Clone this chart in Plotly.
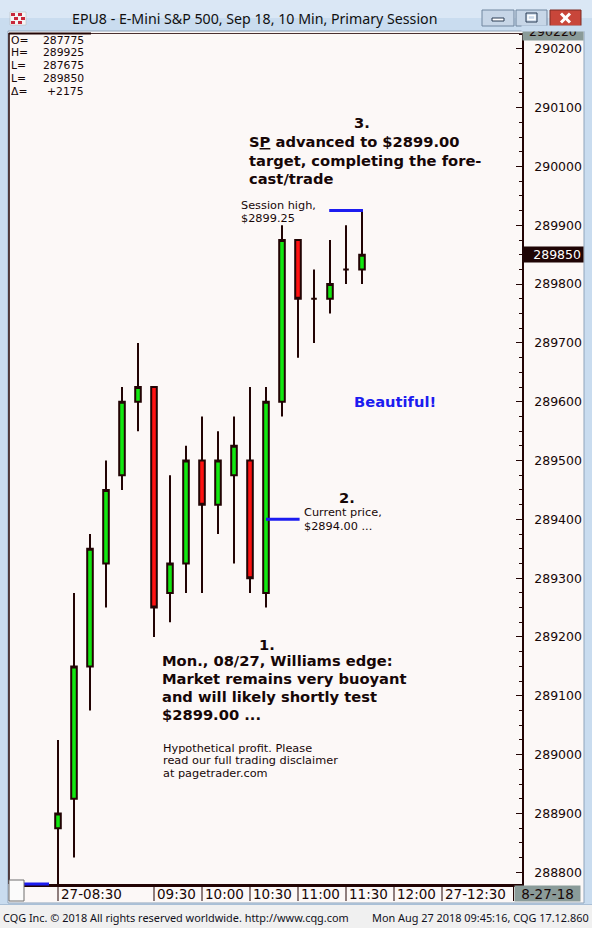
import plotly.graph_objects as go

# ---------------- data ----------------
bar_times = ["08:30", "08:40", "08:50", "09:00", "09:10", "09:20", "09:30", "09:40", "09:50", "10:00",
             "10:10", "10:20", "10:30", "10:40", "10:50", "11:00", "11:10", "11:20", "11:30", "11:40"]
opens = [288875, 288925, 289150, 289325, 289475, 289600, 289625, 289275, 289325, 289500,
         289425, 289475, 289500, 289275, 289600, 289875, 289775, 289775, 289825, 289825]
highs = [289025, 289275, 289375, 289500, 289625, 289700, 289625, 289475, 289525, 289575,
         289550, 289575, 289625, 289625, 289900, 289875, 289825, 289875, 289900, 289925]
lows = [288775, 288825, 289075, 289250, 289450, 289550, 289200, 289225, 289275, 289275,
        289375, 289325, 289275, 289250, 289575, 289675, 289700, 289750, 289800, 289800]
closes = [288900, 289150, 289350, 289450, 289600, 289625, 289250, 289325, 289500, 289425,
          289500, 289525, 289300, 289600, 289875, 289775, 289775, 289800, 289825, 289850]

time_labels = ["27-08:30", "09:30", "10:00", "10:30", "11:00", "11:30", "12:00", "27-12:30"]
y_tick_values = [288800, 288900, 289000, 289100, 289200, 289300, 289400, 289500,
                 289600, 289700, 289800, 289900, 290000, 290100, 290200]
y_range_top_label = "290220"
date_label = "8-27-18"

header_labels = ["O=", "H=", "L=", "L=", "\u0394="]
header_values = ["287775", "289925", "287675", "289850", "+2175"]

current_price_level = 289400  # "$2894.00" callout level

title_text = "EPU8 - E-Mini S&P 500, Sep 18, 10 Min, Primary Session"
footer_left = "CQG Inc. \u00a9 2018 All rights reserved worldwide. http://www.cqg.com"
footer_right = "Mon Aug 27 2018 09:45:16, CQG 17.12.860"

note3_lines = ["S<u>P</u> advanced to $2899.00", "target, completing the fore-", "cast/trade"]
session_lines = ["Session high,", "$2899.25"]
current_lines = ["Current price,", "$2894.00 ..."]
note1_lines = ["Mon., 08/27, Williams edge:", "Market remains very buoyant",
               "and will likely shortly test", "$2899.00 ..."]
disclaimer_lines = ["Hypothetical profit. Please", "read our full trading disclaimer", "at pagetrader.com"]

# ---------------- helpers ----------------
W, H = 592, 928
def PX(x):
    return x / W
def PY(y):
    return 1 - y / H

def bar_index(t):
    hh, mm = t.split("-")[-1].split(":")
    return (int(hh) * 60 + int(mm) - (8 * 60 + 30)) / 10.0

xs = [bar_index(t) for t in bar_times]

TEXT = "#170707"
DARK = "#220404"
FRAME = "#c9dcef"
CLIENT = "#fcf8f7"
BLUE = "#1c1cf0"

# plot geometry (pixels)
PL, PR, PT, PB = 9, 522, 33, 884
BAR0_PX, BAR_STEP = 58, 16

fig = go.Figure()
fig.add_trace(go.Candlestick(
    x=xs, open=opens, high=highs, low=lows, close=closes,
    increasing=dict(line=dict(color=DARK, width=2), fillcolor="#12e812"),
    decreasing=dict(line=dict(color=DARK, width=2), fillcolor="#ff1212"),
    whiskerwidth=0, hoverinfo="skip", showlegend=False,
))

shapes = []
def rect(x0, y0, x1, y1, fill, line=None, lw=0, layer="below"):
    shapes.append(dict(type="rect", xref="paper", yref="paper", x0=PX(x0), x1=PX(x1), y0=PY(y1), y1=PY(y0),
                       fillcolor=fill, line=dict(color=line or fill, width=lw), layer=layer))
def pline(x0, y0, x1, y1, color, lw, layer="below"):
    shapes.append(dict(type="line", xref="paper", yref="paper", x0=PX(x0), x1=PX(x1), y0=PY(y0), y1=PY(y1),
                       line=dict(color=color, width=lw), layer=layer))

# window chrome
rect(0, 0, 592, 18, "#dae7f5")
rect(8, 31, 584, 903, CLIENT, "#8fa4bb", 1)
rect(0, 905, 592, 928, "#f0f0f0")
pline(0, 904.5, 592, 904.5, "#a9bfd6", 1)
# title icon
rect(10, 12, 26, 25, "#f4f4f4", "#b0b0b0", 0.5)
for (ix, iy) in [(11, 13), (18, 13), (14, 17), (21, 17), (11, 21), (18, 21)]:
    rect(ix, iy, ix + 4, iy + 3, "#c8283a")
# buttons
rect(482, 10, 514, 26, "#c7d6e7", "#71869f", 1)
rect(492, 18, 504, 21, "#ffffff", "#2b3c55", 1)
rect(516, 10, 547, 26, "#c7d6e7", "#71869f", 1)
rect(526, 13, 537, 22, "#c7d6e7", "#2b3c55", 1)
rect(528, 15.5, 535, 19.5, "#c7d6e7", "#ffffff", 1.5)
rect(550, 10, 581, 26, "#c8463a", "#7c2a22", 1)
pline(561, 13.5, 570, 22.5, "#ffffff", 3)
pline(561, 22.5, 570, 13.5, "#ffffff", 3)

# plot borders
pline(PL, PT + 0.5, PR, PT + 0.5, "#4a3030", 1)
pline(PL, PT + 0.5, 91, PT + 0.5, DARK, 2)
pline(PL, PT, PL, PB, DARK, 1.5)

# callout lines (data coordinates)
last_i = len(xs) - 1
shapes.append(dict(type="line", xref="x", yref="y", x0=xs[last_i - 2] - 0.05, x1=xs[last_i] + 0.06,
                   y0=max(highs), y1=max(highs), line=dict(color=BLUE, width=3), layer="above"))
shapes.append(dict(type="line", xref="x", yref="y", x0=xs[13], x1=xs[15] + 0.1,
                   y0=current_price_level, y1=current_price_level, line=dict(color=BLUE, width=3), layer="above"))

# bottom-left scroll box and blue marker
pline(24, PB, 49, PB, BLUE, 3, layer="above")
rect(9, 880, 24, 901, "#fbfbfb", "#6f6f6f", 1, layer="above")

# time axis separators
sep_idx = [bar_index(t) for t in time_labels]
for sx in sep_idx:
    shapes.append(dict(type="line", xref="x", yref="paper", x0=sx, x1=sx, y0=PY(901), y1=PY(886),
                       line=dict(color=DARK, width=1), layer="above"))
pline(513.5, 886, 513.5, 901, DARK, 1, layer="above")

annotations = []
def note(text, x, y, size, xanchor="left", color=TEXT, family="DejaVu Sans", **kw):
    d = dict(text=text, x=PX(x), y=PY(y), xref="paper", yref="paper", xanchor=xanchor, yanchor="middle",
             showarrow=False, font=dict(family=family, size=size, color=color))
    d.update(kw)
    annotations.append(d)

# top range box (partially hidden like the original)
annotations.append(dict(text=y_range_top_label, x=PX(522), y=PY(41.5), xref="paper", yref="paper",
                        xanchor="left", yanchor="bottom", width=58, height=8, borderpad=1, align="center",
                        valign="bottom", bgcolor="#8a9b99", showarrow=False,
                        font=dict(family="DejaVu Sans", size=12.5, color=TEXT)))
annotations.append(dict(text=" ", x=PX(521), y=PY(32.5), xref="paper", yref="paper", xanchor="left",
                        yanchor="bottom", width=62, height=5, borderpad=0, bgcolor=FRAME, showarrow=False,
                        font=dict(size=4)))

# title
note(title_text, 254, 19, 14.2, xanchor="center", color="#101010", family="Noto Sans")

# header OHLC box
for k, (lab, val) in enumerate(zip(header_labels, header_values)):
    yy = 40 + 12.9 * k
    note(lab, 10, yy, 10.8, height=11, borderpad=0)
    note(val, 85, yy, 10.8, xanchor="right", height=11, borderpad=0)

# current price box on axis
annotations.append(dict(text=str(closes[-1]), x=PX(522), y=closes[-1], xref="paper", yref="y",
                        xanchor="left", yanchor="middle", width=56, height=11, borderpad=2, align="right",
                        bgcolor="#1f0505", showarrow=False,
                        font=dict(family="DejaVu Sans", size=12.5, color="#ffffff")))

# time labels
for lab, sx in zip(time_labels, sep_idx):
    annotations.append(dict(text=lab, x=sx, y=PY(893.5), xref="x", yref="paper", xanchor="left",
                            yanchor="middle", xshift=1, showarrow=False,
                            font=dict(family="DejaVu Sans", size=13.5, color=TEXT)))
annotations.append(dict(text=date_label, x=PX(514), y=PY(893.5), xref="paper", yref="paper",
                        xanchor="left", yanchor="middle", width=63, height=13, borderpad=1,
                        bgcolor="#8a9b99", showarrow=False,
                        font=dict(family="DejaVu Sans", size=13.5, color=TEXT)))

# commentary
B = 14.7
note("<b>3.</b>", 362, 122, B, xanchor="center")
for k, ln in enumerate(note3_lines):
    note("<b>" + ln + "</b>", 247, 142 + 18.3 * k, B)
for k, ln in enumerate(session_lines):
    note(ln, 238.5, 205 + 13.7 * k, 11.3)
note("<b>Beautiful!</b>", 351.5, 401, B, color=BLUE)
note("<b>2.</b>", 346.5, 497.5, B, xanchor="center")
for k, ln in enumerate(current_lines):
    note(ln, 301.5, 512.5 + 14 * k, 11.3)
note("<b>1.</b>", 266.5, 644, B, xanchor="center")
for k, ln in enumerate(note1_lines):
    note("<b>" + ln + "</b>", 159.5, 660.5 + 18.1 * k, B)
for k, ln in enumerate(disclaimer_lines):
    note(ln, 160.5, 748 + 12.7 * k, 11.3)

# footer
note(footer_left, 1, 917, 10.9, family="Noto Sans", color="#101020")
note(footer_right, 591, 917, 10.9, xanchor="right", family="Noto Sans", color="#101020")

fig.update_layout(
    width=W, height=H, margin=dict(l=0, r=0, t=0, b=0),
    paper_bgcolor=FRAME, plot_bgcolor=CLIENT,
    showlegend=False, hovermode=False,
    boxgap=0.5, boxgroupgap=0.3,
    xaxis=dict(domain=[PX(PL), PX(PR)],
               range=[(PL - BAR0_PX) / BAR_STEP, (PR - BAR0_PX) / BAR_STEP],
               showticklabels=False, ticks="", showgrid=False, zeroline=False,
               showline=True, linewidth=3, linecolor=DARK, rangeslider=dict(visible=False),
               fixedrange=True),
    yaxis=dict(domain=[PY(PB), PY(PT)], range=[288780, 290227], side="right",
               tickvals=y_tick_values, ticktext=[str(v) for v in y_tick_values],
               ticks="inside", ticklen=6, tickwidth=1.2, tickcolor=DARK,
               minor=dict(dtick=25, tick0=288800, ticks="inside", ticklen=3, tickwidth=1, tickcolor=DARK),
               ticklabelstandoff=8,
               showgrid=False, zeroline=False, showline=True, linewidth=1.5, linecolor=DARK,
               tickfont=dict(family="DejaVu Sans", size=12.5, color=TEXT), fixedrange=True),
    shapes=shapes, annotations=annotations,
)

fig.write_html("out.html", config={"displayModeBar": False},
               post_script="document.body.style.margin='0';document.body.style.overflow='hidden';")
